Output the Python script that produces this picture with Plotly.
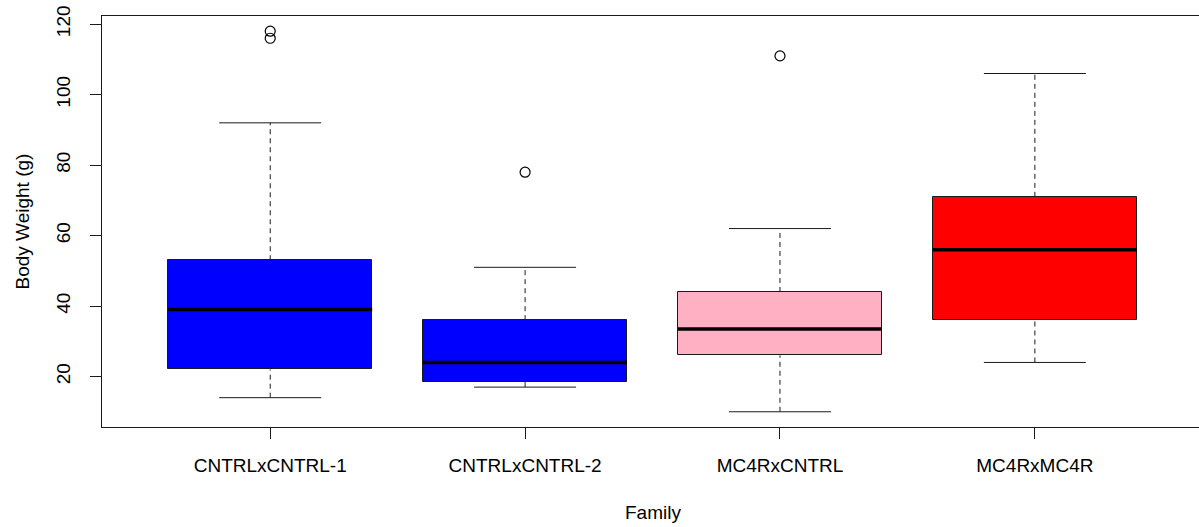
import plotly.graph_objects as go

categories = ["CNTRLxCNTRL-1", "CNTRLxCNTRL-2", "MC4RxCNTRL", "MC4RxMC4R"]
lower_whisker = [14, 17, 10, 24]
q1 = [22, 18.5, 26, 36]
median = [39, 24, 33.5, 56]
q3 = [53, 36, 44, 71]
upper_whisker = [92, 51, 62, 106]
outlier_group = [1, 1, 2, 3]
outlier_value = [118, 116, 78, 111]
y_ticks = [20, 40, 60, 80, 100, 120]

fill_colors = ["#0000FF", "#0000FF", "#FFB0C2", "#FF0000"]
BOX_W = 0.8
CAP_W = 0.4
LINE = "#1a1a1a"

xs = list(range(1, len(categories) + 1))

fig = go.Figure()

# boxes (Q1..Q3)
fig.add_trace(go.Bar(
    x=xs, y=[b - a for a, b in zip(q1, q3)], base=q1, width=BOX_W,
    marker=dict(color=fill_colors, line=dict(color=LINE, width=1)),
    hoverinfo="skip", showlegend=False))

# dashed whiskers
wx, wy = [], []
for i, x in enumerate(xs):
    wx += [x, x, None, x, x, None]
    wy += [q3[i], upper_whisker[i], None, lower_whisker[i], q1[i], None]
fig.add_trace(go.Scatter(x=wx, y=wy, mode="lines",
                         line=dict(color=LINE, width=1, dash="5px,4px"),
                         hoverinfo="skip", showlegend=False))

# whisker caps
cx, cy = [], []
for i, x in enumerate(xs):
    for v in (upper_whisker[i], lower_whisker[i]):
        cx += [x - CAP_W / 2, x + CAP_W / 2, None]
        cy += [v, v, None]
fig.add_trace(go.Scatter(x=cx, y=cy, mode="lines",
                         line=dict(color=LINE, width=1),
                         hoverinfo="skip", showlegend=False))

# medians
mx, my = [], []
for i, x in enumerate(xs):
    mx += [x - BOX_W / 2, x + BOX_W / 2, None]
    my += [median[i], median[i], None]
fig.add_trace(go.Scatter(x=mx, y=my, mode="lines",
                         line=dict(color="#000000", width=3.5),
                         hoverinfo="skip", showlegend=False))

# outliers
fig.add_trace(go.Scatter(x=outlier_group, y=outlier_value, mode="markers",
                         marker=dict(symbol="circle-open", size=10,
                                     line=dict(color="#000000", width=1.2),
                                     color="#000000"),
                         hoverinfo="skip", showlegend=False))

fig.update_layout(
    width=1199, height=527,
    margin=dict(l=102, r=0, t=16, b=100),
    paper_bgcolor="white", plot_bgcolor="white",
    font=dict(family="Liberation Sans, Arial, sans-serif", size=19, color="#000000"),
    bargap=0,
    xaxis=dict(range=[0.34, 4.644], tickvals=xs, ticktext=categories,
               showgrid=False, zeroline=False, showline=True, mirror=True,
               linecolor=LINE, linewidth=1, ticks="outside", ticklen=11,
               tickcolor=LINE, tickwidth=1, ticklabelstandoff=10),
    yaxis=dict(range=[5.68, 122.32], tickvals=y_ticks,
               showgrid=False, zeroline=False, showline=True, mirror=False,
               linecolor=LINE, linewidth=1, ticks="outside", ticklen=11,
               tickcolor=LINE, tickwidth=1, tickangle=-90, ticklabelstandoff=12),
    annotations=[
        dict(text="Body Weight (g)", xref="paper", yref="paper", x=0, y=0.5,
             xshift=-80, textangle=-90, showarrow=False,
             xanchor="center", yanchor="middle", font=dict(size=19)),
        dict(text="Family", xref="x", yref="paper", x=2.5, y=0,
             yshift=-85, showarrow=False, xanchor="center", yanchor="middle",
             font=dict(size=19)),
    ],
)

fig.write_html("out.html")
